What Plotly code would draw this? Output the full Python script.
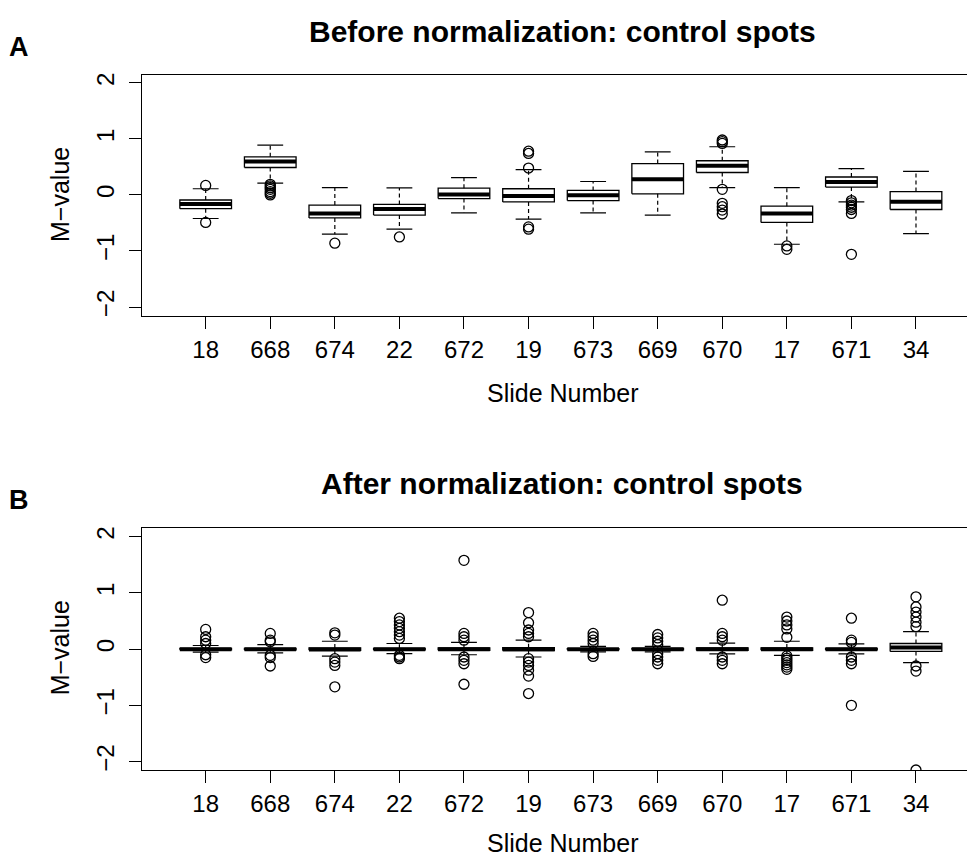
import plotly.graph_objects as go

# ---------------- data ----------------
slides = ["18", "668", "674", "22", "672", "19", "673", "669", "670", "17", "671", "34"]

before_lo  = [-0.42, 0.21, -0.70, -0.61, -0.32, -0.43, -0.32, -0.36, 0.13, -0.88, -0.125, -0.69]
before_q1  = [-0.245, 0.49, -0.41, -0.36, -0.065, -0.125, -0.10, 0.02, 0.40, -0.49, 0.14, -0.26]
before_med = [-0.16, 0.595, -0.33, -0.25, 0.01, -0.02, -0.005, 0.28, 0.52, -0.33, 0.23, -0.12]
before_q3  = [-0.09, 0.68, -0.18, -0.17, 0.12, 0.11, 0.08, 0.56, 0.61, -0.20, 0.32, 0.06]
before_hi  = [0.11, 0.89, 0.13, 0.125, 0.31, 0.45, 0.24, 0.77, 0.86, 0.13, 0.47, 0.42]
before_out = [
    [0.17, -0.49],
    [0.19, 0.16, 0.13, 0.10, 0.06, 0.03, 0.0],
    [-0.86],
    [-0.75],
    [],
    [0.78, 0.74, 0.48, -0.57, -0.61],
    [],
    [],
    [0.98, 0.95, 0.92, 0.10, -0.15, -0.21, -0.27, -0.34],
    [-0.91, -0.97],
    [-0.10, -0.14, -0.18, -0.22, -0.26, -0.33, -1.06],
    [],
]

after_lo  = [-0.055, -0.065, -0.125, -0.08, -0.10, -0.14, -0.05, -0.05, -0.085, -0.11, -0.085, -0.24]
after_q1  = [-0.012, -0.015, -0.02, -0.015, -0.02, -0.025, -0.01, -0.012, -0.02, -0.02, -0.015, -0.04]
after_med = [0.0, 0.0, -0.005, 0.0, 0.0, 0.0, 0.0, 0.0, 0.0, 0.0, 0.0, 0.03]
after_q3  = [0.012, 0.015, 0.02, 0.015, 0.02, 0.025, 0.01, 0.012, 0.02, 0.02, 0.015, 0.10]
after_hi  = [0.065, 0.08, 0.14, 0.10, 0.12, 0.16, 0.05, 0.05, 0.107, 0.14, 0.095, 0.31]
after_out = [
    [0.35, 0.22, 0.16, 0.10, -0.10, -0.15],
    [0.28, 0.16, 0.13, -0.11, -0.15, -0.30],
    [0.29, 0.25, -0.17, -0.23, -0.29, -0.67],
    [0.55, 0.49, 0.43, 0.37, 0.31, 0.25, 0.19, -0.11, -0.14, -0.17],
    [1.58, 0.28, 0.22, 0.16, -0.14, -0.20, -0.26, -0.625],
    [0.65, 0.47, 0.34, 0.28, 0.22, -0.17, -0.23, -0.29, -0.375, -0.48, -0.79],
    [0.28, 0.22, 0.16, 0.10, -0.08, -0.13],
    [0.26, 0.20, 0.14, 0.08, -0.08, -0.14, -0.20, -0.26],
    [0.87, 0.28, 0.22, 0.16, -0.14, -0.20, -0.26],
    [0.57, 0.50, 0.43, 0.36, 0.21, -0.12, -0.16, -0.20, -0.24, -0.28, -0.32, -0.36],
    [0.55, 0.16, 0.12, -0.14, -0.20, -0.26, -1.0],
    [0.93, 0.75, 0.66, 0.57, 0.48, 0.40, -0.30, -0.39, -2.15],
]

titles = ["Before normalization: control spots", "After normalization: control spots"]
panel_letters = ["A", "B"]
y_ticks = [-2, -1, 0, 1, 2]

# ---------------- figure ----------------
W, H = 967, 859
FONT = "Liberation Sans, Arial, Helvetica, sans-serif"
BOX_HALF = 0.4
STAPLE_HALF = 0.2


def boxplot_traces(lo, q1, med, q3, hi, out, xa, ya):
    bx, by, wx, wy, sx, sy, mx, my, ox, oy = [], [], [], [], [], [], [], [], [], []
    for i in range(len(slides)):
        c = i + 1
        bx += [c - BOX_HALF, c + BOX_HALF, c + BOX_HALF, c - BOX_HALF, c - BOX_HALF, None]
        by += [q1[i], q1[i], q3[i], q3[i], q1[i], None]
        wx += [c, c, None, c, c, None]
        wy += [q3[i], hi[i], None, q1[i], lo[i], None]
        sx += [c - STAPLE_HALF, c + STAPLE_HALF, None, c - STAPLE_HALF, c + STAPLE_HALF, None]
        sy += [hi[i], hi[i], None, lo[i], lo[i], None]
        mx += [c - BOX_HALF, c + BOX_HALF, None]
        my += [med[i], med[i], None]
        for v in out[i]:
            ox.append(c)
            oy.append(v)
    common = dict(xaxis=xa, yaxis=ya, showlegend=False, hoverinfo="skip")
    return [
        go.Scatter(x=wx, y=wy, mode="lines", line=dict(color="black", width=1.2, dash="4px,3px"), **common),
        go.Scatter(x=sx, y=sy, mode="lines", line=dict(color="black", width=1.2), **common),
        go.Scatter(x=bx, y=by, mode="lines", line=dict(color="black", width=1.3), **common),
        go.Scatter(x=mx, y=my, mode="lines", line=dict(color="black", width=4), **common),
        go.Scatter(x=ox, y=oy, mode="markers",
                   marker=dict(symbol="circle-open", size=10, color="black", line=dict(width=1.3)),
                   **common),
    ]


fig = go.Figure()
for t in boxplot_traces(before_lo, before_q1, before_med, before_q3, before_hi, before_out, "x", "y"):
    fig.add_trace(t)
for t in boxplot_traces(after_lo, after_q1, after_med, after_q3, after_hi, after_out, "x2", "y2"):
    fig.add_trace(t)

x_left_px = 142.4
xdom = [x_left_px / W, 1.0]
# pixel positions of plot areas (top, bottom)
panels_px = [(75, 316), (527.7, 770)]
ydoms = [[1 - b / H, 1 - t / H] for (t, b) in panels_px]

xaxis_common = dict(
    domain=xdom, range=[0.02, 12.79], tickmode="array",
    tickvals=list(range(1, len(slides) + 1)), ticktext=slides,
    ticks="outside", ticklen=12, tickwidth=1.2, tickcolor="black",
    showline=True, linecolor="black", linewidth=1.3, mirror=True,
    showgrid=False, zeroline=False, automargin=False,
    tickfont=dict(family=FONT, size=24, color="black"),
)
yaxis_common = dict(
    tickmode="array", tickvals=y_ticks, ticktext=[str(v).replace("-", "\u2212") for v in y_ticks],
    tickangle=-90, ticklabelstandoff=6,
    ticks="outside", ticklen=12, tickwidth=1.2, tickcolor="black",
    showline=True, linecolor="black", linewidth=1.3, mirror=False,
    showgrid=False, zeroline=False, automargin=False,
    tickfont=dict(family=FONT, size=24, color="black"),
)

fig.update_layout(
    width=W, height=H,
    margin=dict(l=0, r=0, t=0, b=0, pad=0),
    paper_bgcolor="white", plot_bgcolor="white",
    showlegend=False,
    xaxis=dict(**xaxis_common, anchor="y"),
    xaxis2=dict(**xaxis_common, anchor="y2"),
    yaxis=dict(**yaxis_common, domain=ydoms[0], range=[-2.16, 2.14], anchor="x"),
    yaxis2=dict(**yaxis_common, domain=ydoms[1], range=[-2.15, 2.16], anchor="x2"),
)

annotations = []
center_x = 562 / W
for k, (t_px, b_px) in enumerate(panels_px):
    # main title
    annotations.append(dict(
        text=titles[k], x=center_x, y=1 - (t_px - 44) / H, xref="paper", yref="paper",
        xanchor="center", yanchor="middle", showarrow=False,
        font=dict(family=FONT, size=30, color="black", weight="bold")))
    # panel letter
    annotations.append(dict(
        text=panel_letters[k], x=19 / W, y=1 - (t_px - 28) / H, xref="paper", yref="paper",
        xanchor="center", yanchor="middle", showarrow=False,
        font=dict(family=FONT, size=27, color="black", weight="bold")))
    # x axis title (kept inside the page for the lower panel)
    if k == 1:
        annotations.append(dict(
            text="Slide Number", x=center_x, y=0, xref="paper", yref="paper",
            xanchor="center", yanchor="bottom", showarrow=False,
            font=dict(family=FONT, size=25, color="black")))
    else:
        annotations.append(dict(
            text="Slide Number", x=center_x, y=1 - (b_px + 77) / H, xref="paper", yref="paper",
            xanchor="center", yanchor="middle", showarrow=False,
            font=dict(family=FONT, size=25, color="black")))
    # y axis title
    annotations.append(dict(
        text="M\u2212value", x=60 / W, y=1 - ((t_px + b_px) / 2 - 0.5) / H, xref="paper", yref="paper",
        xanchor="center", yanchor="middle", showarrow=False, textangle=-90,
        font=dict(family=FONT, size=25, color="black")))

fig.update_layout(annotations=annotations)

fig.write_html("out.html")
